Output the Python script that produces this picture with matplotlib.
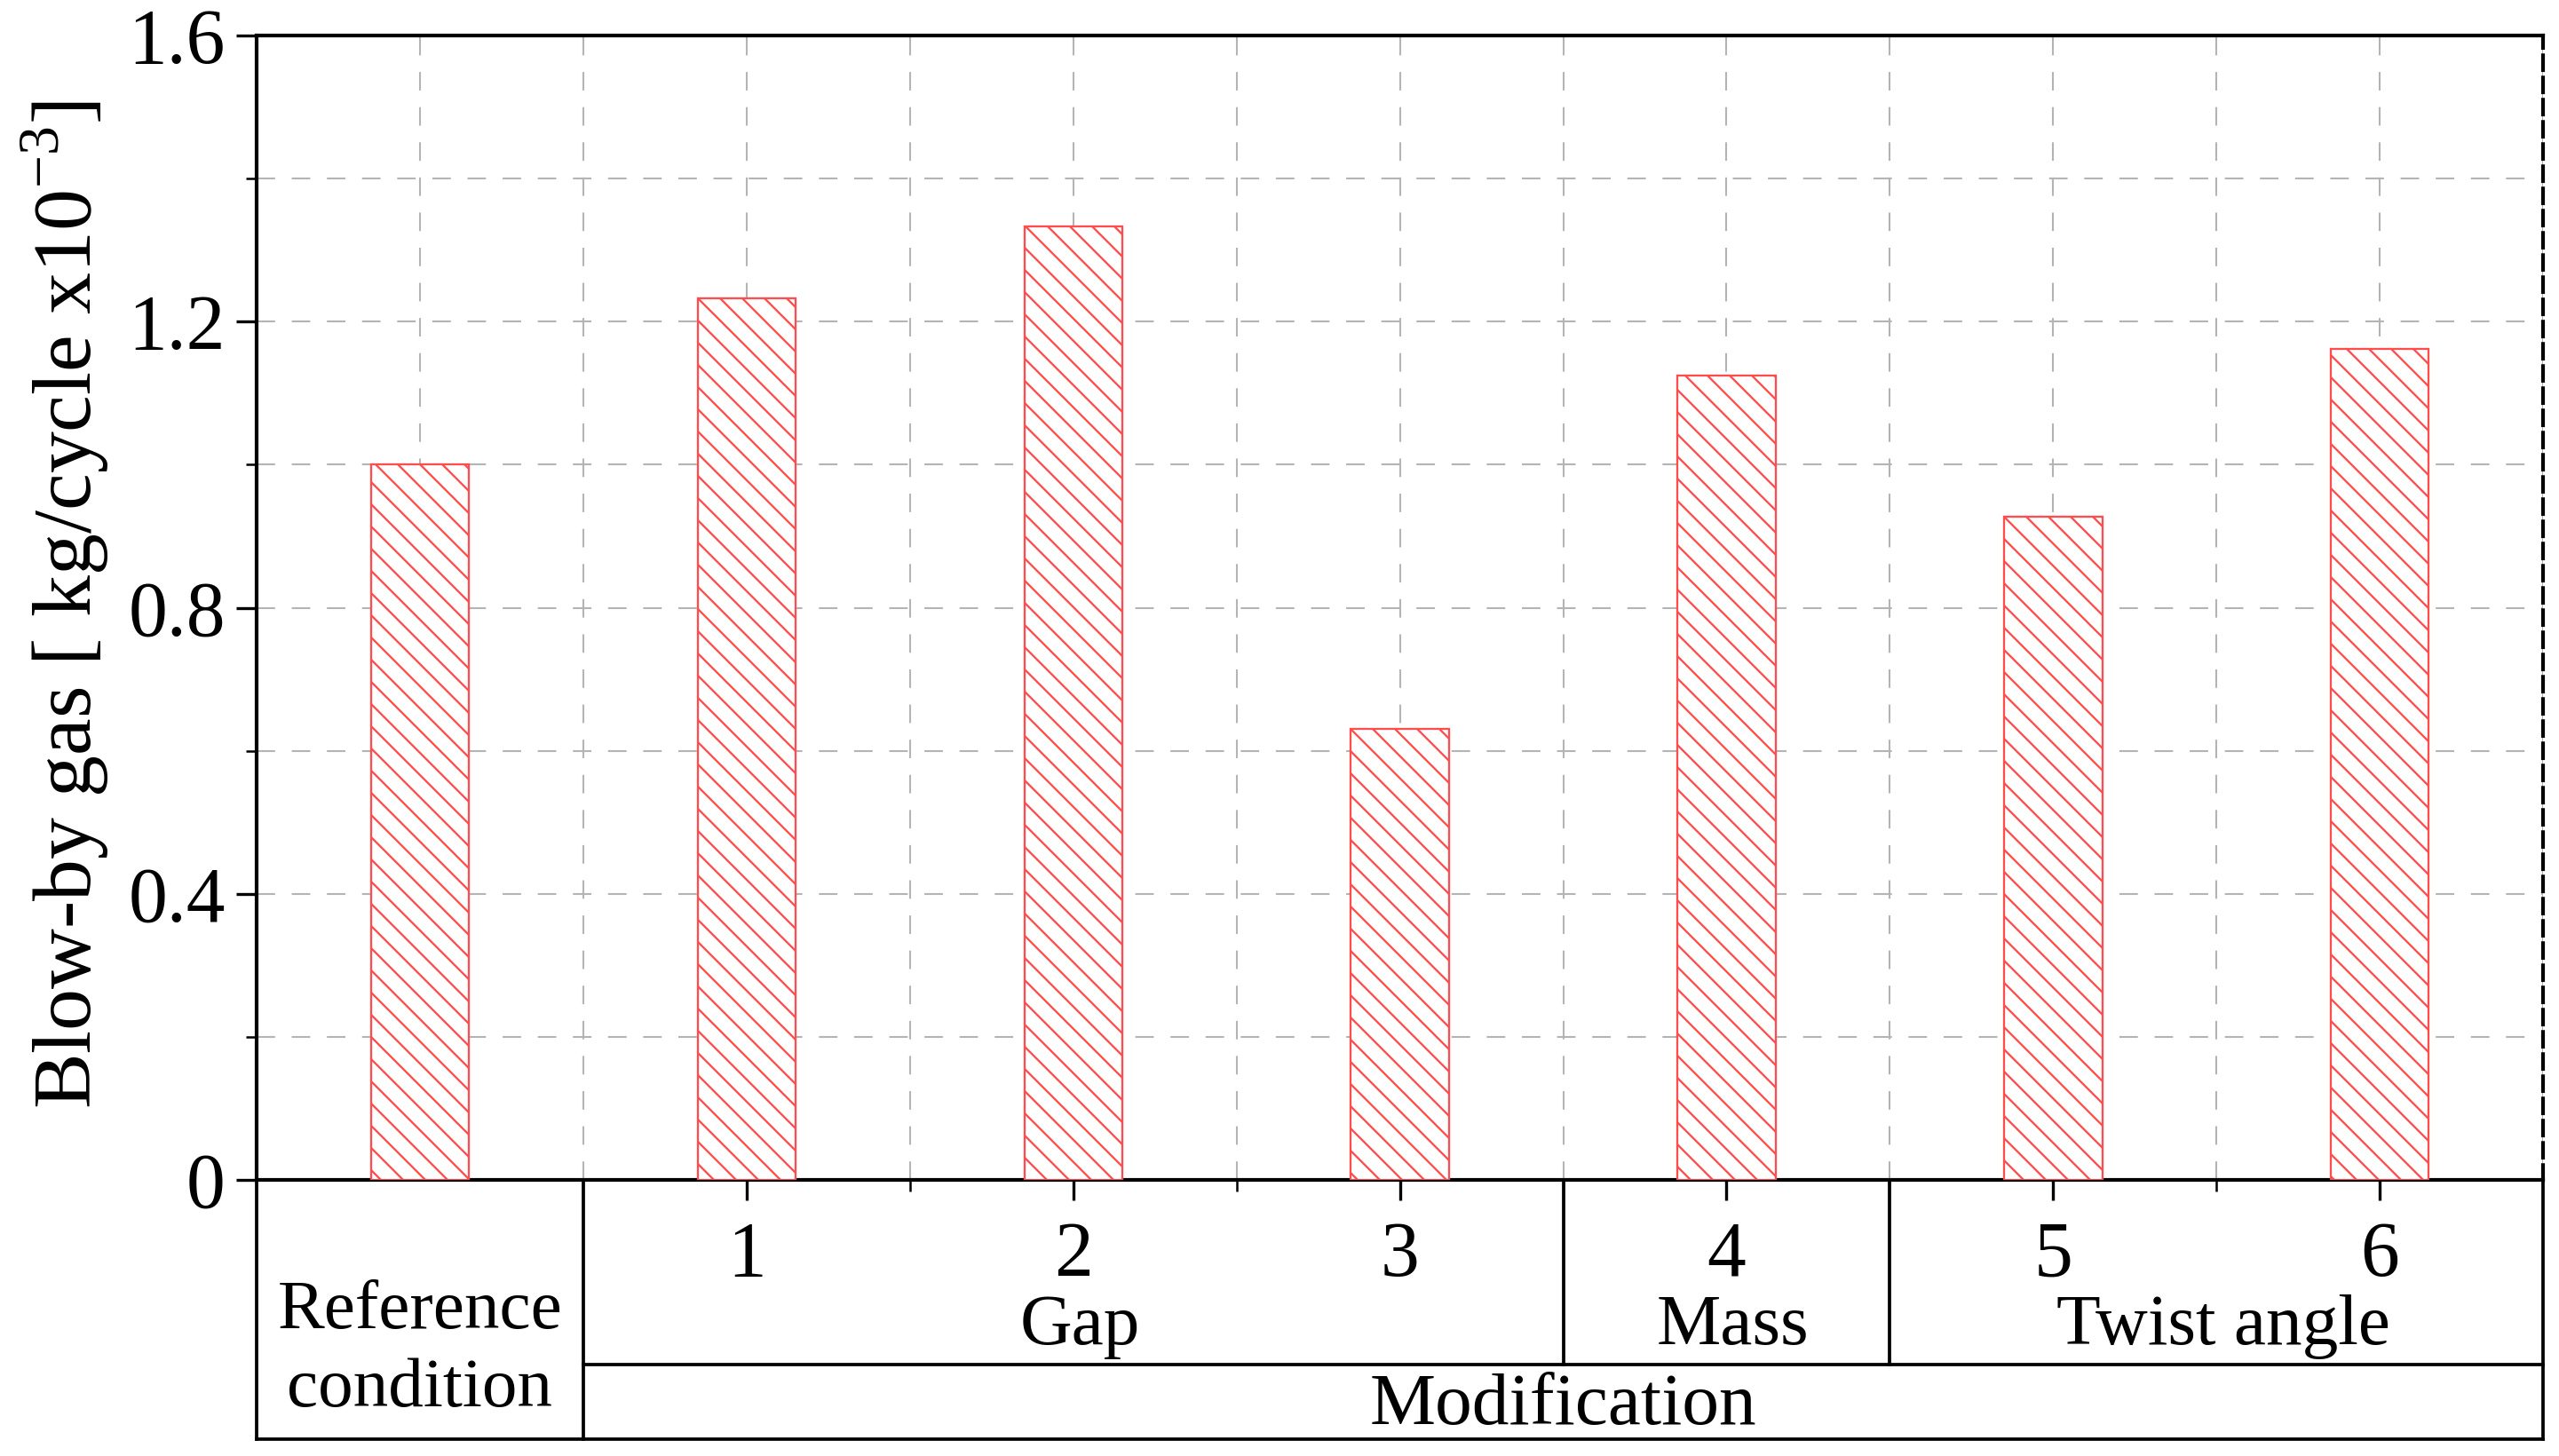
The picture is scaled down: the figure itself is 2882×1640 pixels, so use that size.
import matplotlib
matplotlib.use("Agg")
import matplotlib.pyplot as plt
import numpy as np

# ── data ─────────────────────────────────────────────────────────────────────
positions = [0, 1, 2, 3, 4, 5, 6]
blowby = [1.00, 1.233, 1.333, 0.630, 1.125, 0.927, 1.162]   # kg/cycle x10^-3
case_labels = ["1", "2", "3", "4", "5", "6"]
groups = [("Gap", 2.0), ("Mass", 4.0), ("Twist angle", 5.5)]
group_edges = [0.5, 3.5, 4.5, 6.5]

plt.rcParams["font.family"] = ["Liberation Serif", "DejaVu Serif"]
plt.rcParams["hatch.linewidth"] = 1.1
plt.rcParams["hatch.color"] = "#ff4d4d"

DPI = 150
fig = plt.figure(figsize=(2882 / DPI, 1640 / DPI), dpi=DPI)
ax = fig.add_axes([0.1003, 0.1896, 0.8935, 0.7860])

red = "#ff4d4d"
ax.bar(positions, blowby, width=0.3, facecolor="white", edgecolor=red,
       hatch="\\\\", linewidth=1.1, zorder=3)

ax.set_xlim(-0.5, 6.5)
ax.set_ylim(0, 1.6)

# ── grid (dashed grey, every half unit in x, 0.2 in y) ──────────────────────
grid_kw = dict(color="#b4b4b4", lw=1.0, ls=(0, (10, 9)), zorder=1)
for gx in np.arange(0, 6.01, 0.5):
    ax.axvline(gx, **grid_kw)
for gy in np.arange(0.2, 1.41, 0.2):
    ax.axhline(gy, **grid_kw)

# ── ticks ───────────────────────────────────────────────────────────────────
ax.set_yticks([0, 0.4, 0.8, 1.2, 1.6])
ax.set_yticklabels(["0", "0.4", "0.8", "1.2", "1.6"])
ax.set_yticks([0.2, 0.6, 1.0, 1.4], minor=True)
ax.set_xticks(positions[1:])
ax.set_xticklabels(case_labels)
ax.set_xticks([1.5, 2.5, 5.5], minor=True)
ax.tick_params(axis="both", which="major", direction="out", length=11,
               width=1.6, labelsize=42, color="black")
ax.tick_params(axis="both", which="minor", direction="out", length=6,
               width=1.2, color="black")
ax.tick_params(axis="y", pad=6)
ax.tick_params(axis="x", pad=11)

for side in ["left", "top", "bottom"]:
    ax.spines[side].set_linewidth(2.0)
ax.spines["right"].set_linewidth(2.0)
ax.spines["right"].set_linestyle((0, (4, 2)))
ax.spines["right"].set_color("black")
ax.axvline(6.5, color="#9a9a9a", lw=1.2, zorder=0)

# ── category table under the axis ───────────────────────────────────────────
tr = ax.get_xaxis_transform()
y_mid = -0.1614
y_bot = -0.2265
line_kw = dict(color="black", lw=1.8, transform=tr, clip_on=False,
               solid_capstyle="projecting")
ax.plot([-0.5, -0.5], [0, y_bot], **line_kw)
ax.plot([0.5, 0.5], [0, y_bot], **line_kw)
ax.plot([6.5, 6.5], [0, y_bot], **line_kw)
for e in group_edges[1:-1]:
    ax.plot([e, e], [0, y_mid], **line_kw)
ax.plot([0.5, 6.5], [y_mid, y_mid], **line_kw)
ax.plot([-0.5, 6.5], [y_bot, y_bot], **line_kw)

ax.text(0, -0.149, "Reference\ncondition", transform=tr, ha="center",
        va="center", fontsize=38, linespacing=1.3)
for name, gx in groups:
    ax.text(gx + 0.02, -0.128, name, transform=tr, ha="center", va="center",
            fontsize=39)
ax.text(3.5, -0.198, "Modification", transform=tr, ha="center",
        va="center", fontsize=40)

fig.text(0.0253, 0.585, r"Blow-by gas [ kg/cycle x10$^{\mathregular{-3}}$]",
         rotation=90, ha="center", va="center", fontsize=45)

fig.savefig("out.png", dpi=DPI)
